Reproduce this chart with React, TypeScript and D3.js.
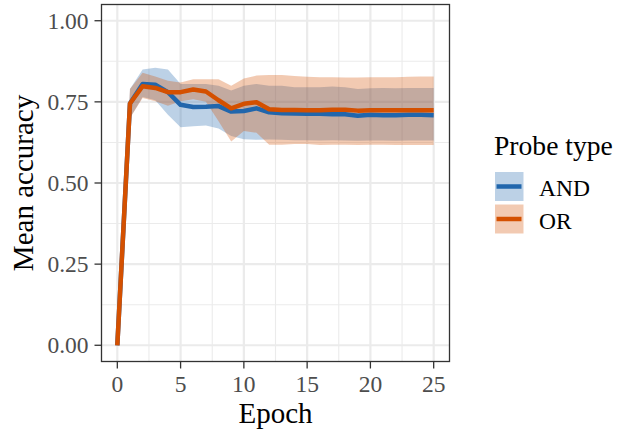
import React from "react";
import * as d3 from "d3";

const epochs = [0,1,2,3,4,5,6,7,8,9,10,11,12,13,14,15,16,17,18,19,20,21,22,23,24,25];

const andMean = [0,0.745,0.805,0.803,0.78,0.741,0.734,0.735,0.737,0.72,0.722,0.73,0.718,0.715,0.714,0.713,0.713,0.712,0.712,0.707,0.71,0.709,0.709,0.71,0.71,0.709];
const andLower = [0,0.70,0.765,0.755,0.71,0.672,0.675,0.677,0.668,0.645,0.635,0.633,0.634,0.633,0.632,0.632,0.631,0.632,0.631,0.630,0.631,0.631,0.630,0.631,0.631,0.631];
const andUpper = [0,0.79,0.85,0.855,0.85,0.805,0.805,0.805,0.80,0.785,0.80,0.805,0.80,0.80,0.795,0.795,0.795,0.797,0.795,0.790,0.792,0.793,0.792,0.793,0.793,0.793];

const orMean = [0,0.745,0.798,0.793,0.78,0.78,0.788,0.782,0.755,0.73,0.744,0.749,0.727,0.725,0.725,0.724,0.724,0.726,0.726,0.723,0.724,0.724,0.724,0.724,0.724,0.724];
const orLower = [0,0.70,0.762,0.752,0.738,0.752,0.758,0.75,0.69,0.628,0.66,0.655,0.618,0.618,0.62,0.62,0.617,0.618,0.618,0.617,0.618,0.618,0.617,0.617,0.617,0.617];
const orUpper = [0,0.79,0.84,0.828,0.815,0.81,0.82,0.82,0.82,0.80,0.822,0.831,0.833,0.833,0.83,0.827,0.826,0.826,0.825,0.825,0.826,0.826,0.826,0.827,0.828,0.828];

const xTicks = [0,5,10,15,20,25];
const xMinor = [2.5,7.5,12.5,17.5,22.5];
const yTicks = [0,0.25,0.5,0.75,1.0];
const yTickLabels = ["0.00","0.25","0.50","0.75","1.00"];
const yMinor = [0.125,0.375,0.625,0.875];

const seriesNames = ["AND","OR"];
const seriesColors = ["#2166AC","#D45000"];

const W = 617, H = 429;
const PL = 101.5, PR = 449.5, PT = 4.5, PB = 361.5;
const FONT = "'Liberation Serif', 'Times New Roman', serif";

export default function App() {
  const x = d3.scaleLinear().domain([-1.25, 26.25]).range([PL, PR]);
  const y = d3.scaleLinear().domain([-0.05, 1.05]).range([PB, PT]);

  const series = [
    { name: seriesNames[0], color: seriesColors[0], mean: andMean, lo: andLower, hi: andUpper },
    { name: seriesNames[1], color: seriesColors[1], mean: orMean, lo: orLower, hi: orUpper },
  ];

  const area = (lo: number[], hi: number[]) =>
    d3.area<number>()
      .x((d) => x(d))
      .y0((_, i) => y(lo[i]))
      .y1((_, i) => y(hi[i]))(epochs) as string;

  const line = (m: number[]) =>
    d3.line<number>()
      .x((d) => x(d))
      .y((_, i) => y(m[i]))(epochs) as string;

  return (
    <svg width={W} height={H} style={{ position: "absolute", left: 0, top: 0, background: "#fff" }}>
      <rect x={0} y={0} width={W} height={H} fill="#fff" />
      {/* grid */}
      <g>
        {xMinor.map((v) => (
          <line key={"xm" + v} x1={x(v)} x2={x(v)} y1={PT} y2={PB} stroke="#ebebeb" strokeWidth={1.1} />
        ))}
        {yMinor.map((v) => (
          <line key={"ym" + v} x1={PL} x2={PR} y1={y(v)} y2={y(v)} stroke="#ebebeb" strokeWidth={1.1} />
        ))}
        {xTicks.map((v) => (
          <line key={"xM" + v} x1={x(v)} x2={x(v)} y1={PT} y2={PB} stroke="#ebebeb" strokeWidth={2.2} />
        ))}
        {yTicks.map((v) => (
          <line key={"yM" + v} x1={PL} x2={PR} y1={y(v)} y2={y(v)} stroke="#ebebeb" strokeWidth={2.2} />
        ))}
      </g>
      {/* ribbons */}
      {series.map((s) => (
        <path key={"r" + s.name} d={area(s.lo, s.hi)} fill={s.color} fillOpacity={0.3} stroke="none" />
      ))}
      {/* lines */}
      {series.map((s) => (
        <path key={"l" + s.name} d={line(s.mean)} fill="none" stroke={s.color} strokeWidth={4.5} strokeLinejoin="round" />
      ))}
      {/* panel border */}
      <rect x={PL} y={PT} width={PR - PL} height={PB - PT} fill="none" stroke="#333333" strokeWidth={1.3} />
      {/* x axis */}
      {xTicks.map((v) => (
        <g key={"xt" + v}>
          <line x1={x(v)} x2={x(v)} y1={PB} y2={PB + 7} stroke="#333333" strokeWidth={1.3} />
          <text x={x(v)} y={392} textAnchor="middle" fontFamily={FONT} fontSize={23.5} fill="#4d4d4d">{v}</text>
        </g>
      ))}
      {/* y axis */}
      {yTicks.map((v, i) => (
        <g key={"yt" + v}>
          <line x1={PL - 7} x2={PL} y1={y(v)} y2={y(v)} stroke="#333333" strokeWidth={1.3} />
          <text x={88.5} y={y(v) + 8} textAnchor="end" fontFamily={FONT} fontSize={23.5} fill="#4d4d4d">{yTickLabels[i]}</text>
        </g>
      ))}
      {/* axis titles */}
      <text x={(PL + PR) / 2} y={423} textAnchor="middle" fontFamily={FONT} fontSize={29} fill="#000">Epoch</text>
      <text transform={`translate(33,${(PT + PB) / 2}) rotate(-90)`} textAnchor="middle" fontFamily={FONT} fontSize={29} fill="#000">Mean accuracy</text>
      {/* legend */}
      <text x={494} y={155} fontFamily={FONT} fontSize={27.6} fill="#000">Probe type</text>
      {series.map((s, i) => {
        const ky = 172 + i * 32.5;
        return (
          <g key={"lg" + s.name}>
            <rect x={495} y={ky} width={28.5} height={29} fill={s.color} fillOpacity={0.3} />
            <line x1={496.5} x2={521.5} y1={ky + 14.5} y2={ky + 14.5} stroke={s.color} strokeWidth={4.5} />
            <text x={539} y={ky + 24} fontFamily={FONT} fontSize={23.5} fill="#000">{s.name}</text>
          </g>
        );
      })}
    </svg>
  );
}
